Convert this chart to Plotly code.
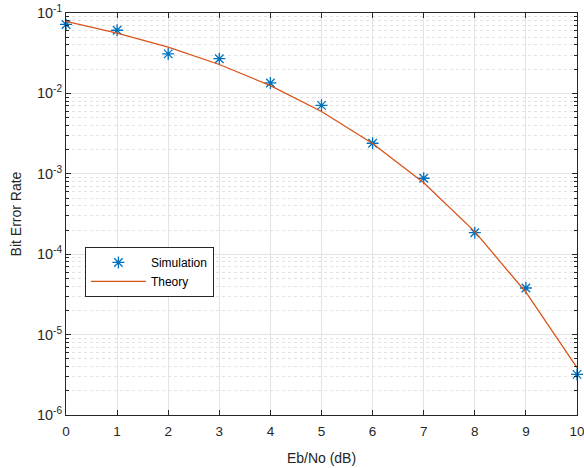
import plotly.graph_objects as go

ebno_db = [0, 1, 2, 3, 4, 5, 6, 7, 8, 9, 10]
ber_sim = [0.072, 0.061, 0.031, 0.027, 0.0135, 0.0071, 0.0024, 0.00088, 0.000185, 0.000038, 0.0000032]
ber_theory = [0.07865, 0.05628, 0.03751, 0.02288, 0.01250, 0.005954, 0.002388, 0.0007727, 0.0001909, 0.00003362, 0.000003872]
y_tickvals = [1e-6, 1e-5, 1e-4, 1e-3, 1e-2, 1e-1]
y_ticktext = ["10<sup>-6</sup>", "10<sup>-5</sup>", "10<sup>-4</sup>", "10<sup>-3</sup>", "10<sup>-2</sup>", "10<sup>-1</sup>"]

axis_col = "#262626"
grid_col = "#e3e3e3"
font_family = "Liberation Sans, Arial, sans-serif"

fig = go.Figure()
fig.add_trace(go.Scatter(
    x=ebno_db, y=ber_sim, mode="markers", name="Simulation",
    marker=dict(symbol="asterisk-open", size=10, color="#0072BD",
                line=dict(color="#0072BD", width=1.3)),
    cliponaxis=False,
))
fig.add_trace(go.Scatter(
    x=ebno_db, y=ber_theory, mode="lines", name="Theory",
    line=dict(color="#D95319", width=1.3),
))

fig.update_layout(
    width=584, height=468,
    margin=dict(l=66, r=7, t=13, b=53),
    paper_bgcolor="white", plot_bgcolor="white",
    font=dict(family=font_family, size=13, color=axis_col),
    legend=dict(x=0.037, y=0.418, xanchor="left", yanchor="top",
                bgcolor="white", bordercolor=axis_col, borderwidth=1,
                itemwidth=55,
                font=dict(size=12, color="#000000"), tracegroupgap=0),
    showlegend=True,
)
fig.update_xaxes(
    range=[0, 10], dtick=1, tick0=0, automargin=False,
    ticklabeloverflow="allow", ticklabelstandoff=4,
    showline=True, linecolor=axis_col, linewidth=1, mirror="allticks",
    ticks="inside", ticklen=5, tickcolor=axis_col,
    showgrid=True, gridcolor=grid_col, gridwidth=1, zeroline=False,
    title=dict(text="Eb/No (dB)", font=dict(size=14), standoff=14),
    tickfont=dict(size=13.5),
)
fig.update_yaxes(
    type="log", range=[-6, -1], automargin=False,
    ticklabeloverflow="allow",
    tickvals=y_tickvals, ticktext=y_ticktext,
    showline=True, linecolor=axis_col, linewidth=1, mirror="allticks",
    ticks="inside", ticklen=5, tickcolor=axis_col,
    showgrid=True, gridcolor=grid_col, gridwidth=1, zeroline=False,
    minor=dict(dtick="D1", ticks="inside", ticklen=3, tickcolor=axis_col,
               showgrid=True, gridcolor=grid_col, griddash="dot", gridwidth=1),
    title=dict(text="Bit Error Rate", font=dict(size=14), standoff=12),
    tickfont=dict(size=14.5),
)

fig.write_html("out.html",
               config={"displayModeBar": False},
               post_script="document.body.style.margin='0px';document.body.style.overflow='hidden';")
